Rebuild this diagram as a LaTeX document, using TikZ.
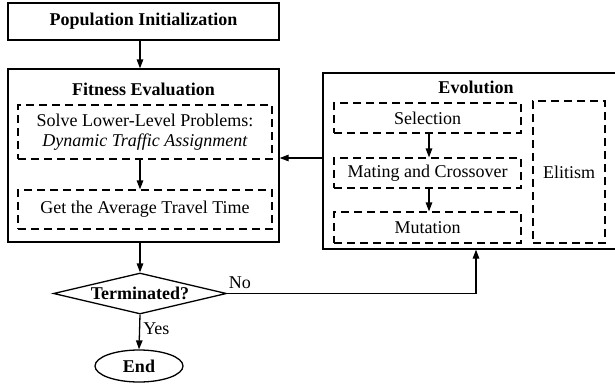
\documentclass[tikz,border=0pt]{standalone}
\usepackage{fontspec}
\setmainfont{Liberation Serif}
\usetikzlibrary{shapes.geometric,arrows.meta}
\begin{document}
\begin{tikzpicture}[x=1pt,y=-1pt,
  every node/.style={font=\fontsize{18}{20}\selectfont},
  solidbox/.style={draw, line width=1.3pt, rectangle, inner sep=0pt},
  dbox/.style={draw, line width=1.2pt, dash pattern=on 8pt off 5pt, rectangle, inner sep=0pt, align=center},
  arr/.style={line width=1.3pt, -{Triangle[length=9pt,width=6.5pt]}},
  plainline/.style={line width=1.3pt}]
\useasboundingbox (0,0) rectangle (615,383);
% left column
\node[solidbox, minimum width=271pt, minimum height=37pt, font=\fontsize{18}{20}\selectfont\bfseries] (pop) at (143.5,21.5) {Population Initialization};
\node[solidbox, minimum width=271pt, minimum height=173pt] (fit) at (143.5,155.5) {};
\node[font=\fontsize{18}{20}\selectfont\bfseries, inner sep=0pt] (fitt) at (143.5,89) {Fitness Evaluation};
\node[dbox, minimum width=254pt, minimum height=54pt] (lp) at (145,132) {Solve Lower-Level Problems:\\\textit{Dynamic Traffic Assignment}};
\node[dbox, minimum width=254pt, minimum height=39pt] (avg) at (145,209.5) {Get the Average Travel Time};
\node[draw, diamond, line width=1.3pt, aspect=4.2, inner sep=0pt, minimum width=173pt, minimum height=41pt, font=\fontsize{18}{20}\selectfont\bfseries] (term) at (140,293.5) {Terminated?};
\node[draw, ellipse, line width=1.3pt, inner sep=0pt, minimum width=88pt, minimum height=32pt, font=\fontsize{18}{20}\selectfont\bfseries] (end) at (139,366) {End};
% right column
\node[solidbox, minimum width=306pt, minimum height=176pt] (evo) at (476,161) {};
\node[font=\fontsize{18}{20}\selectfont\bfseries, inner sep=0pt] (evot) at (476,87) {Evolution};
\node[dbox, minimum width=187pt, minimum height=30pt] (sel) at (427.5,118) {Selection};
\node[dbox, minimum width=187pt, minimum height=30pt] (mat) at (427.5,173) {Mating and Crossover};
\node[dbox, minimum width=187pt, minimum height=31pt] (mut) at (427.5,227.5) {Mutation};
\node[dbox, minimum width=72pt, minimum height=142pt] (eli) at (569,172) {Elitism};
% connectors
\coordinate (ax) at (140,0);
\coordinate (sx) at (429,0);
\coordinate (ey) at (0,158);
\draw[arr] (pop.south -| ax) -- (fit.north -| ax);
\draw[arr] (lp.south -| ax) -- (avg.north -| ax);
\draw[arr] (fit.south -| ax) -- (term.north);
\draw[arr] (term.south) -- node[pos=0.4, right, inner sep=3pt] (yes) {Yes} (end.north);
\draw[arr] (term.east) -| node[pos=0, anchor=south west, inner sep=1pt, yshift=3pt] (no) {No} (evo.south);
\draw[arr] (sel.south -| sx) -- (mat.north -| sx);
\draw[arr] (mat.south -| sx) -- (mut.north -| sx);
\draw[arr] (evo.west |- ey) -- (fit.east |- ey);
\end{tikzpicture}
\end{document}
